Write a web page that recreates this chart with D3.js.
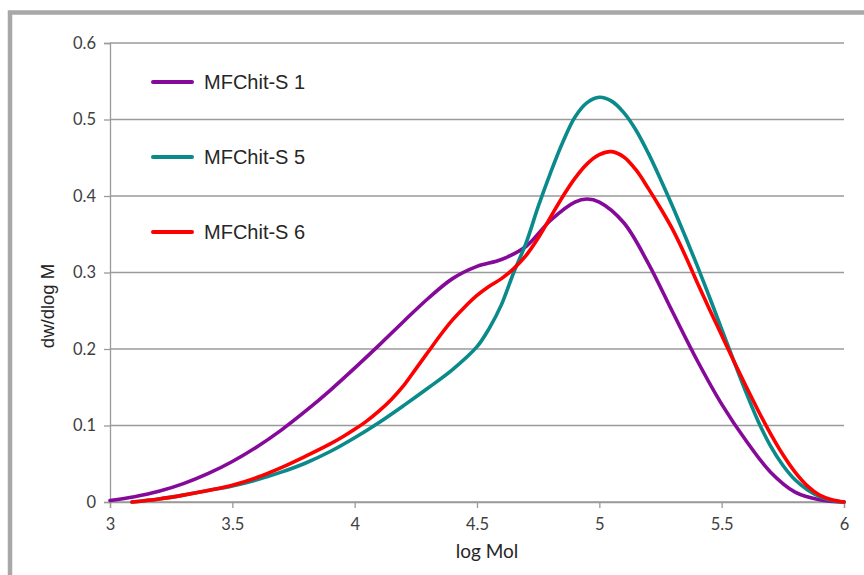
<!DOCTYPE html>
<html>
<head>
<meta charset="utf-8">
<script src="https://cdn.jsdelivr.net/npm/d3@7"></script>
<style>
  html, body { margin: 0; padding: 0; background: #fff; }
  svg { display: block; }
</style>
</head>
<body>
<svg id="chart" width="864" height="575"></svg>
<script>
// ---- data ----
const seriesNames = ["MFChit-S 1", "MFChit-S 5", "MFChit-S 6"];
const seriesColors = ["#860A9A", "#0A8A8A", "#FF0000"];

const s1X = [3.0, 3.1, 3.2, 3.3, 3.4, 3.5, 3.6, 3.7, 3.8, 3.9, 4.0, 4.1, 4.2, 4.3, 4.4, 4.5, 4.6, 4.7, 4.8, 4.9, 4.95, 5.0, 5.1, 5.2, 5.3, 5.4, 5.5, 5.6, 5.7, 5.8, 5.9, 6.0];
const s1Y = [0.002, 0.007, 0.014, 0.024, 0.037, 0.053, 0.072, 0.094, 0.119, 0.146, 0.175, 0.205, 0.236, 0.266, 0.292, 0.308, 0.317, 0.334, 0.368, 0.392, 0.396, 0.392, 0.365, 0.312, 0.248, 0.185, 0.128, 0.080, 0.039, 0.013, 0.003, 0.000];

const s5X = [3.09, 3.2, 3.3, 3.4, 3.5, 3.6, 3.7, 3.8, 3.9, 4.0, 4.1, 4.2, 4.3, 4.4, 4.5, 4.55, 4.6, 4.65, 4.7, 4.75, 4.8, 4.85, 4.9, 4.95, 5.0, 5.05, 5.1, 5.15, 5.2, 5.25, 5.3, 5.35, 5.4, 5.45, 5.5, 5.55, 5.6, 5.65, 5.7, 5.75, 5.8, 5.85, 5.9, 5.95, 6.0];
const s5Y = [0.000, 0.004, 0.009, 0.015, 0.021, 0.029, 0.039, 0.051, 0.066, 0.084, 0.104, 0.126, 0.149, 0.173, 0.203, 0.227, 0.258, 0.300, 0.338, 0.386, 0.430, 0.470, 0.503, 0.522, 0.529, 0.524, 0.509, 0.486, 0.456, 0.422, 0.386, 0.348, 0.309, 0.268, 0.226, 0.184, 0.143, 0.105, 0.073, 0.048, 0.029, 0.016, 0.007, 0.002, 0.000];

const s6X = [3.09, 3.2, 3.3, 3.4, 3.5, 3.6, 3.7, 3.8, 3.9, 3.95, 4.0, 4.05, 4.1, 4.15, 4.2, 4.25, 4.3, 4.35, 4.4, 4.45, 4.5, 4.55, 4.6, 4.65, 4.7, 4.75, 4.8, 4.85, 4.9, 4.95, 5.0, 5.05, 5.1, 5.15, 5.2, 5.25, 5.3, 5.35, 5.4, 5.45, 5.5, 5.55, 5.6, 5.65, 5.7, 5.75, 5.8, 5.85, 5.9, 5.95, 6.0];
const s6Y = [0.000, 0.004, 0.009, 0.015, 0.022, 0.032, 0.045, 0.060, 0.076, 0.085, 0.095, 0.106, 0.119, 0.134, 0.152, 0.174, 0.196, 0.218, 0.238, 0.255, 0.270, 0.282, 0.292, 0.305, 0.322, 0.345, 0.372, 0.399, 0.423, 0.442, 0.454, 0.458, 0.451, 0.434, 0.410, 0.384, 0.356, 0.323, 0.287, 0.252, 0.218, 0.184, 0.151, 0.119, 0.089, 0.062, 0.039, 0.021, 0.009, 0.003, 0.000];

const xTicks = [3, 3.5, 4, 4.5, 5, 5.5, 6];
const yTicks = [0, 0.1, 0.2, 0.3, 0.4, 0.5, 0.6];
const xTitle = "log Mol";
const yTitle = "dw/dlog M";

// ---- drawing ----
const svg = d3.select("#chart");
const plot = { left: 110, right: 844, top: 43, bottom: 502 };

const x = d3.scaleLinear().domain([3, 6]).range([plot.left, plot.right]);
const y = d3.scaleLinear().domain([0, 0.6]).range([plot.bottom, plot.top]);

// outer frame (only top and left edges visible)
svg.append("rect")
  .attr("x", 10).attr("y", 12.5)
  .attr("width", 1000).attr("height", 1000)
  .attr("fill", "none")
  .attr("stroke", "#a8a8aa")
  .attr("stroke-width", 4.5);

const gridColor = "#9a9a9a";
const tickFont = "Lato, 'Open Sans', sans-serif";
const arialFont = "'Liberation Sans', Arial, sans-serif";
const textColor = "#404040";

// horizontal gridlines
svg.append("g").selectAll("line").data(yTicks).join("line")
  .attr("x1", plot.left).attr("x2", plot.right)
  .attr("y1", d => y(d)).attr("y2", d => y(d))
  .attr("stroke", gridColor).attr("stroke-width", 1.3);

// y axis
const yAxis = d3.axisLeft(y).tickValues(yTicks).tickSize(6).tickPadding(8)
  .tickFormat(d => d3.format("")(d));
const gy = svg.append("g").attr("transform", `translate(${plot.left},0)`).call(yAxis);
gy.select(".domain").attr("stroke", gridColor).attr("stroke-width", 1.3);
gy.selectAll(".tick line").attr("stroke", gridColor).attr("stroke-width", 1.3);
gy.selectAll(".tick text").attr("fill", textColor).style("font-family", tickFont).style("font-size", "16.5px");

// x axis
const xAxis = d3.axisBottom(x).tickValues(xTicks).tickSize(6).tickPadding(10)
  .tickFormat(d => d3.format("")(d));
const gx = svg.append("g").attr("transform", `translate(0,${plot.bottom})`).call(xAxis);
gx.select(".domain").attr("stroke", gridColor).attr("stroke-width", 1.3);
gx.selectAll(".tick line").attr("stroke", gridColor).attr("stroke-width", 1.3);
gx.selectAll(".tick text").attr("fill", textColor).style("font-family", tickFont).style("font-size", "16.5px");

// axis titles
svg.append("text")
  .attr("x", 487).attr("y", 558)
  .attr("text-anchor", "middle")
  .attr("fill", "#262626")
  .style("font-family", tickFont).style("font-size", "19px")
  .text(xTitle);

svg.append("text")
  .attr("transform", "translate(54,306) rotate(-90)")
  .attr("text-anchor", "middle")
  .attr("fill", "#262626")
  .style("font-family", arialFont).style("font-size", "18.5px")
  .text(yTitle);

// series lines
const seriesX = [s1X, s5X, s6X];
const seriesY = [s1Y, s5Y, s6Y];
const line = d3.line().x(d => x(d[0])).y(d => y(d[1])).curve(d3.curveCatmullRom.alpha(0.5));

seriesNames.forEach((name, i) => {
  const pts = seriesX[i].map((v, j) => [v, seriesY[i][j]]);
  svg.append("path")
    .datum(pts)
    .attr("fill", "none")
    .attr("stroke", seriesColors[i])
    .attr("stroke-width", 3.6)
    .attr("stroke-linejoin", "round")
    .attr("stroke-linecap", "round")
    .attr("d", line);
});

// legend
const legendY = [82, 157, 232];
seriesNames.forEach((name, i) => {
  svg.append("line")
    .attr("x1", 153).attr("x2", 192)
    .attr("y1", legendY[i]).attr("y2", legendY[i])
    .attr("stroke", seriesColors[i]).attr("stroke-width", 4)
    .attr("stroke-linecap", "round");
  svg.append("text")
    .attr("x", 204).attr("y", legendY[i])
    .attr("dy", "0.36em")
    .attr("fill", "#262626")
    .style("font-family", arialFont).style("font-size", "20px")
    .text(name);
});
</script>
</body>
</html>
